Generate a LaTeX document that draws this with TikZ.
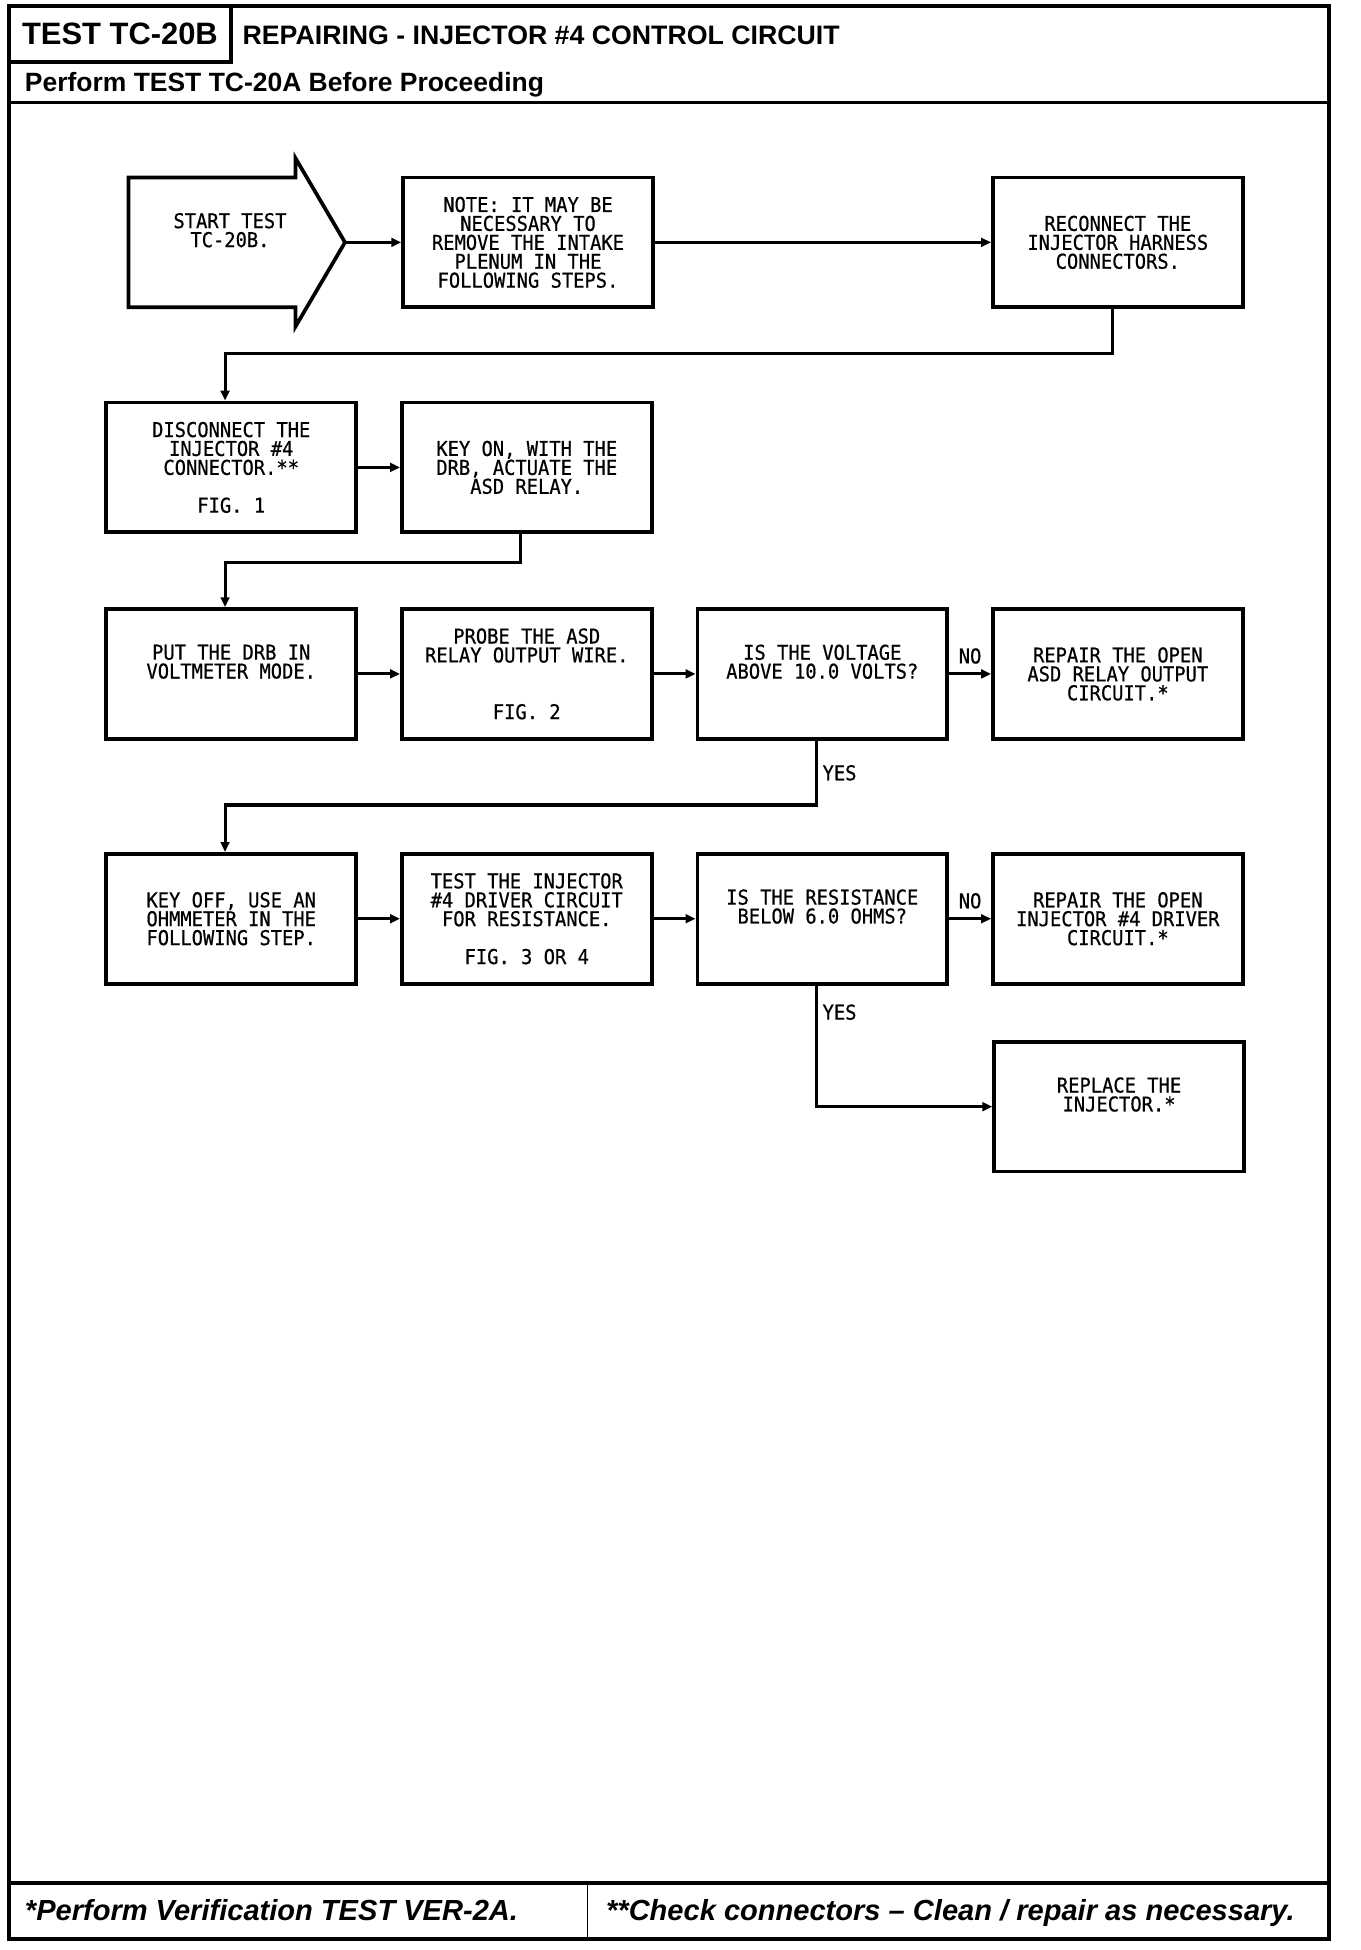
\documentclass[tikz,border=0pt]{standalone}
\usepackage{fontspec}
\setmainfont{Liberation Sans}
\newfontfamily\plotfont[FakeStretch=0.92, FakeBold=0.6]{DejaVu Sans Mono}
\usetikzlibrary{arrows.meta}
\begin{document}
\begin{tikzpicture}[x=1pt, y=-1pt,
  box/.style={draw, line width=3pt, minimum width=202pt, minimum height=105pt, inner sep=0pt, align=center, font=\plotfont\fontsize{16.5}{15.3}\selectfont},
  link/.style={line width=2.5pt, -{Triangle[length=8pt, width=7pt]}},
  tag/.style={font=\plotfont\fontsize{16.5}{15.3}\selectfont, inner sep=4pt}]
\useasboundingbox (0,0) rectangle (1100,1577);
\draw[line width=3pt] (7,5) rectangle (1075,1568);
\draw[line width=3pt] (7,83) -- (1075,83);
\draw[line width=3pt] (7,1523) -- (1075,1523);
\draw[line width=1.2pt] (475,1523) -- (475,1568);
\node (T_0) [draw, line width=3pt, minimum width=180pt, minimum height=45pt, inner sep=0pt, font=\bfseries\fontsize{25}{28}\selectfont] at (97,27.5) {TEST TC-20B};
\node (T_1) [anchor=base west, inner sep=0pt, font=\bfseries\fontsize{21.6}{24}\selectfont] at (196,36) {REPAIRING - INJECTOR \#4 CONTROL CIRCUIT};
\node (T_2) [anchor=base west, inner sep=0pt, font=\bfseries\fontsize{21.4}{24}\selectfont] at (20,74) {Perform TEST TC-20A Before Proceeding};
\draw[line width=3pt, line join=miter] (104,143.5) -- (239,143.5) -- (239,128) -- (279,196) -- (239,264) -- (239,248.5) -- (104,248.5) -- cycle;
\node (B_0_0) [inner sep=0pt, align=center, font=\plotfont\fontsize{16.5}{15.3}\selectfont] at (186,196) {START TEST\\TC-20B.\\\strut};
\coordinate (C_0_0) at (279,196);
\node (B_0_1) [box] at (427,196) {NOTE: IT MAY BE\\NECESSARY TO\\REMOVE THE INTAKE\\PLENUM IN THE\\FOLLOWING STEPS.};
\draw[link] (C_0_0) -- (B_0_1.west);
\node (B_0_2) [box] at (904,196) {RECONNECT THE\\INJECTOR HARNESS\\CONNECTORS.};
\draw[link] (B_0_1.east) -- (B_0_2.west);
\node (B_1_0) [box] at (187,378) {DISCONNECT THE\\INJECTOR \#4\\CONNECTOR.**\\[15.3pt]FIG. 1};
\draw[link] ([xshift=-4pt]B_0_2.south) -- ++(0,36) -| ([xshift=-5pt]B_1_0.north);
\node (B_1_1) [box] at (426,378) {KEY ON, WITH THE\\DRB, ACTUATE THE\\ASD RELAY.};
\draw[link] (B_1_0.east) -- (B_1_1.west);
\node (B_2_0) [box] at (187,545) {PUT THE DRB IN\\VOLTMETER MODE.\\\strut};
\draw[link] ([xshift=-5pt]B_1_1.south) -- ++(0,23) -| ([xshift=-5pt]B_2_0.north);
\node (B_2_1) [box] at (426,545) {PROBE THE ASD\\RELAY OUTPUT WIRE.\\[30.6pt]FIG. 2};
\draw[link] (B_2_0.east) -- (B_2_1.west);
\node (B_2_2) [box] at (665,545) {IS THE VOLTAGE\\ABOVE 10.0 VOLTS?\\\strut};
\draw[link] (B_2_1.east) -- (B_2_2.west);
\node (B_2_3) [box] at (904,545) {REPAIR THE OPEN\\ASD RELAY OUTPUT\\CIRCUIT.*};
\draw[link] (B_2_2.east) -- (B_2_3.west) node[tag, midway, above=3pt] {NO};
\node (B_3_0) [box] at (187,743) {KEY OFF, USE AN\\OHMMETER IN THE\\FOLLOWING STEP.};
\draw[link] ([xshift=-5pt]B_2_2.south) -- ++(0,52) node[tag, midway, right] {YES} -| ([xshift=-5pt]B_3_0.north);
\node (B_3_1) [box] at (426,743) {TEST THE INJECTOR\\\#4 DRIVER CIRCUIT\\FOR RESISTANCE.\\[15.3pt]FIG. 3 OR 4};
\draw[link] (B_3_0.east) -- (B_3_1.west);
\node (B_3_2) [box] at (665,743) {IS THE RESISTANCE\\BELOW 6.0 OHMS?\\\strut};
\draw[link] (B_3_1.east) -- (B_3_2.west);
\node (B_3_3) [box] at (904,743) {REPAIR THE OPEN\\INJECTOR \#4 DRIVER\\CIRCUIT.*};
\draw[link] (B_3_2.east) -- (B_3_3.west) node[tag, midway, above=3pt] {NO};
\node (B_4_3) [box] at (905,895) {REPLACE THE\\INJECTOR.*\\\strut};
\draw[link] ([xshift=-5pt]B_3_2.south) |- (B_4_3.west) node[tag, pos=0.11, right] {YES};
\node (F_0) [anchor=base west, inner sep=0pt, font=\bfseries\itshape\fontsize{23.5}{26}\selectfont] at (20,1553) {*Perform Verification TEST VER-2A.};
\node (F_1) [anchor=base west, inner sep=0pt, font=\bfseries\itshape\fontsize{23.5}{26}\selectfont] at (490,1553) {**Check connectors \textendash{} Clean / repair as necessary.};
\end{tikzpicture}
\end{document}
